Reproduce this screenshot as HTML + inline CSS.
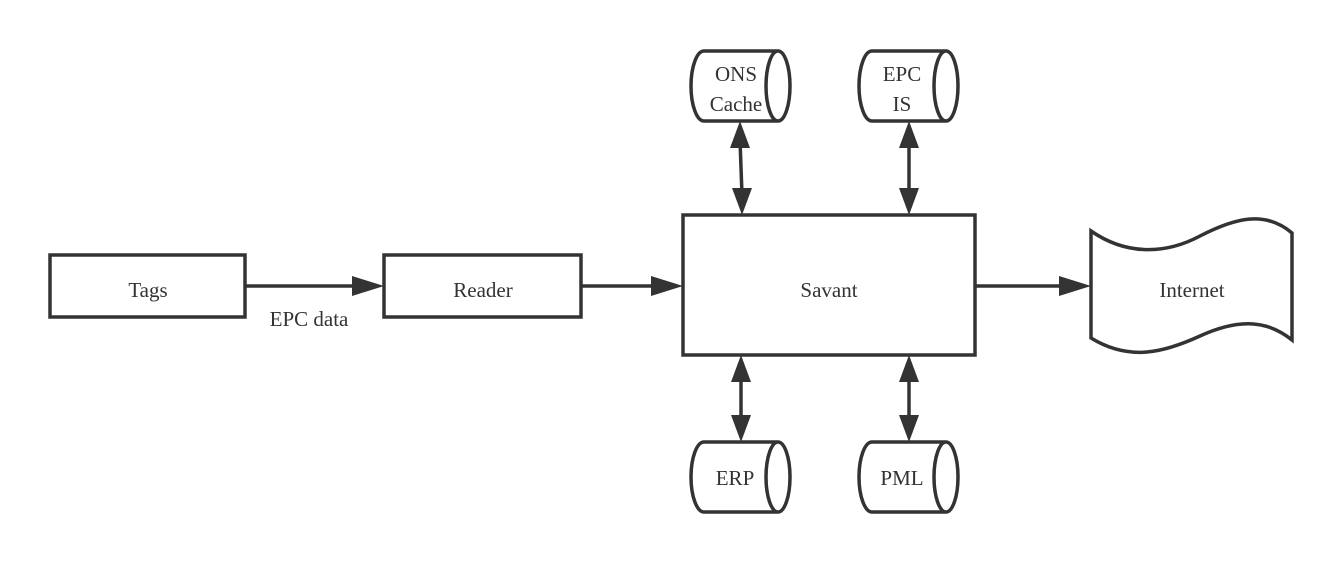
<!DOCTYPE html>
<html><head><meta charset="utf-8"><style>
html,body{margin:0;padding:0;background:#fff;}
svg{display:block;}
</style></head><body>
<svg width="1341" height="562" viewBox="0 0 1341 562" xmlns="http://www.w3.org/2000/svg">
<g stroke="#333" stroke-width="3.5" fill="none">
  <rect x="50" y="255" width="195" height="62"/>
  <rect x="384" y="255" width="197" height="62"/>
  <rect x="683" y="215" width="292" height="140"/>
  <line x1="245" y1="286" x2="355" y2="286"/>
  <line x1="581" y1="286" x2="655" y2="286"/>
  <line x1="975" y1="286" x2="1062" y2="286"/>
  <line x1="740" y1="140" x2="742" y2="195"/>
  <line x1="909" y1="140" x2="909" y2="195"/>
  <line x1="741" y1="375" x2="741" y2="422"/>
  <line x1="909" y1="375" x2="909" y2="422"/>
  <path d="M704,51 L778,51 A12,35 0 0 1 778,121 L704,121 A13,35 0 0 1 704,51 Z M778,51 A12,35 0 0 0 778,121"/>
  <path d="M872,51 L946,51 A12,35 0 0 1 946,121 L872,121 A13,35 0 0 1 872,51 Z M946,51 A12,35 0 0 0 946,121"/>
  <path d="M704,442 L778,442 A12,35 0 0 1 778,512 L704,512 A13,35 0 0 1 704,442 Z M778,442 A12,35 0 0 0 778,512"/>
  <path d="M872,442 L946,442 A12,35 0 0 1 946,512 L872,512 A13,35 0 0 1 872,442 Z M946,442 A12,35 0 0 0 946,512"/>
  <path d="M1091,231 C1130,258 1170,252 1200,236 C1235,218 1265,210 1292,233 L1292,340 C1265,318 1235,320 1200,336 C1165,352 1130,362 1091,338 Z"/>
</g>
<g fill="#333" stroke="none">
  <polygon points="352,276 384,286 352,296"/>
  <polygon points="651,276 683,286 651,296"/>
  <polygon points="1059,276 1091,286 1059,296"/>
  <polygon points="740,121 730,148 750,148"/>
  <polygon points="742,215 732,188 752,188"/>
  <polygon points="909,121 899,148 919,148"/>
  <polygon points="909,215 899,188 919,188"/>
  <polygon points="741,355 731,382 751,382"/>
  <polygon points="741,442 731,415 751,415"/>
  <polygon points="909,355 899,382 919,382"/>
  <polygon points="909,442 899,415 919,415"/>
</g>
<g text-anchor="middle" font-family="'Times New Roman', 'Liberation Serif', 'Noto Serif CJK SC', 'DejaVu Serif', serif" font-size="21" fill="#333">
  <text x="148" y="297">Tags</text>
  <text x="483" y="297">Reader</text>
  <text x="829" y="297">Savant</text>
  <text x="1192" y="297">Internet</text>
  <text x="309" y="326">EPC data</text>
  <text x="736" y="81">ONS</text>
  <text x="736" y="111">Cache</text>
  <text x="902" y="81">EPC</text>
  <text x="902" y="111">IS</text>
  <text x="735" y="485">ERP</text>
  <text x="902" y="485">PML</text>
</g>
</svg>
</body></html>
